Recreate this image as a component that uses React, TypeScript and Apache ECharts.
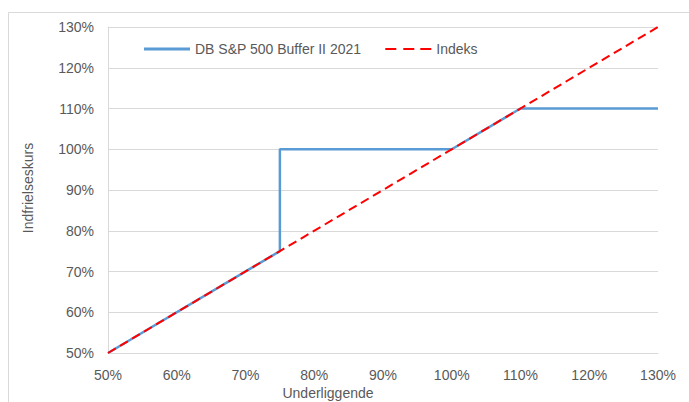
import React, { useEffect, useRef } from "react";
import * as echarts from "echarts";

const bufferX = [50, 75, 75, 100, 110, 130];
const bufferY = [50, 75, 100, 100, 110, 110];
const indexX = [50, 130];
const indexY = [50, 130];
const seriesNames = ["DB S&P 500 Buffer II 2021", "Indeks"];
const xTitle = "Underliggende";
const yTitle = "Indfrielseskurs";

export default function App() {
  const ref = useRef<HTMLDivElement>(null);
  useEffect(() => {
    if (!ref.current) return;
    const chart = echarts.init(ref.current, null, { renderer: "svg" });
    const font = "'Liberation Sans', Arial, sans-serif";
    const gray = "#595959";
    chart.setOption({
      animation: false,
      backgroundColor: "#ffffff",
      textStyle: { fontFamily: font },
      grid: { left: 108, right: 31, top: 27, bottom: 49, containLabel: false },
      legend: {
        left: 139,
        top: 37,
        itemWidth: 46,
        itemHeight: 14,
        itemGap: 24,
        textStyle: { color: gray, fontSize: 14, fontFamily: font },
        data: [
          { name: seriesNames[0], icon: "path://M0,0 L46,0 L46,3 L0,3 Z" },
          {
            name: seriesNames[1],
            icon: "path://M0,0 L11,0 L11,2 L0,2 Z M18,0 L29,0 L29,2 L18,2 Z M35,0 L46,0 L46,2 L35,2 Z",
          },
        ],
      },
      xAxis: {
        type: "value",
        min: 50,
        max: 130,
        interval: 10,
        axisLine: { show: true, lineStyle: { color: "#d9d9d9", width: 1 } },
        axisTick: { show: false },
        splitLine: { show: false },
        axisLabel: { color: gray, fontSize: 14, margin: 15, formatter: "{value}%" },
      },
      yAxis: {
        type: "value",
        min: 50,
        max: 130,
        interval: 10,
        axisLine: { show: true, lineStyle: { color: "#d9d9d9", width: 1 } },
        axisTick: { show: false },
        splitLine: { show: true, lineStyle: { color: "#d9d9d9", width: 1 } },
        axisLabel: { color: gray, fontSize: 14, margin: 14, formatter: "{value}%" },
      },
      series: [
        {
          name: seriesNames[0],
          type: "line",
          data: bufferX.map((x, i) => [x, bufferY[i]]),
          symbol: "none",
          lineStyle: { color: "#5b9bd5", width: 2.5 },
          itemStyle: { color: "#5b9bd5" },
          z: 2,
        },
        {
          name: seriesNames[1],
          type: "line",
          data: indexX.map((x, i) => [x, indexY[i]]),
          symbol: "none",
          lineStyle: { color: "#ff0000", width: 2, type: [9, 5] },
          itemStyle: { color: "#ff0000" },
          z: 3,
        },
      ],
      graphic: [
        {
          type: "rect",
          shape: { x: 8.5, y: 12.5, width: 720, height: 440 },
          style: { fill: "none", stroke: "#d9d9d9", lineWidth: 1 },
          silent: true,
        },
        {
          type: "text",
          x: 328,
          y: 393,
          style: {
            text: xTitle,
            fill: gray,
            font: `14px ${font}`,
            textAlign: "center",
            textVerticalAlign: "middle",
          },
        },
        {
          type: "text",
          x: 28,
          y: 188,
          rotation: Math.PI / 2,
          style: {
            text: yTitle,
            fill: gray,
            font: `14px ${font}`,
            textAlign: "center",
            textVerticalAlign: "middle",
          },
        },
      ],
    });
    return () => chart.dispose();
  }, []);
  return (
    <div
      ref={ref}
      style={{ position: "fixed", left: 0, top: 0, width: 689, height: 402 }}
    />
  );
}
